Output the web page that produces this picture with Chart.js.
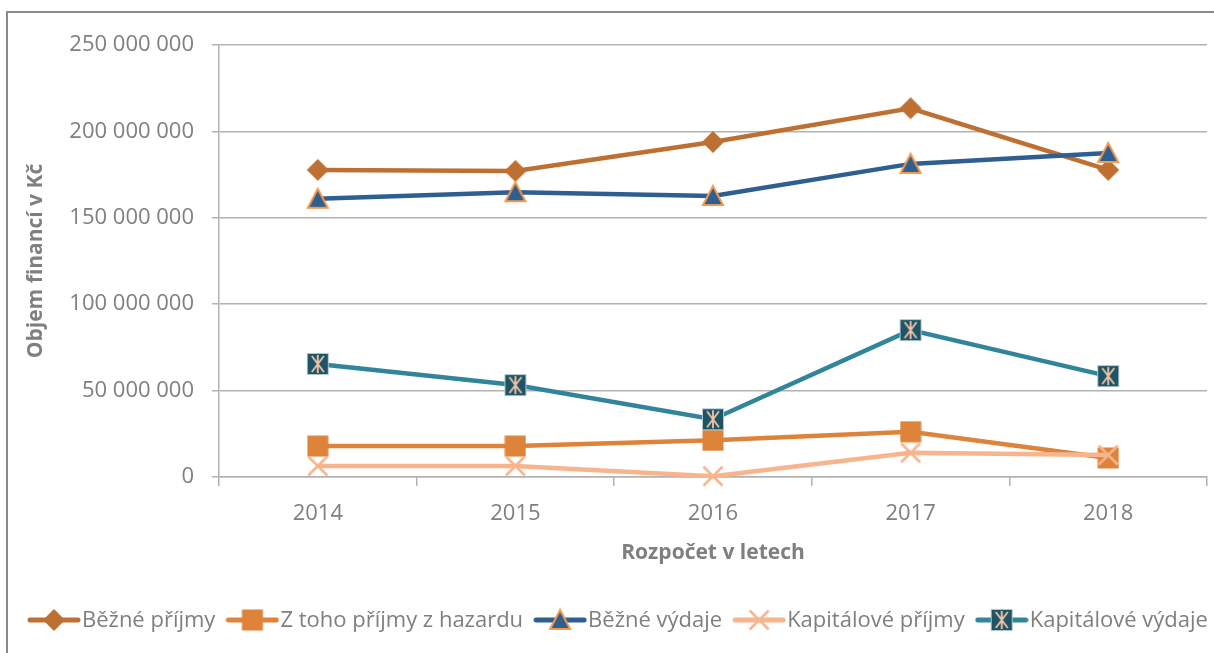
<!DOCTYPE html>
<html><head><meta charset="utf-8">
<script src="https://cdn.jsdelivr.net/npm/chart.js@4.4.1/dist/chart.umd.min.js"></script>
<style>html,body{margin:0;padding:0;background:#fff;overflow:hidden}</style>
</head><body>
<canvas id="c" width="1214" height="653" style="display:block;width:1214px;height:653px"></canvas>
<script>
// ---- data ----
const categories = ['2014', '2015', '2016', '2017', '2018'];
const seriesNames = ['Běžné příjmy', 'Z toho příjmy z hazardu', 'Běžné výdaje', 'Kapitálové příjmy', 'Kapitálové výdaje'];
const bezne_prijmy = [177700000, 177100000, 193900000, 213400000, 177700000];
const hazard_prijmy = [17900000, 17900000, 21200000, 26200000, 11000000];
const bezne_vydaje = [161000000, 164800000, 162600000, 181200000, 187500000];
const kapitalove_prijmy = [6400000, 6400000, 500000, 14000000, 12700000];
const kapitalove_vydaje = [65400000, 53200000, 33400000, 85000000, 58400000];
const yTickValues = [0, 50000000, 100000000, 150000000, 200000000, 250000000];
const yAxisTitle = 'Objem financí v Kč';
const xAxisTitle = 'Rozpočet v letech';

// ---- styles ----
const C_BP = '#BE7032', C_HZ = '#DD833A', C_BV = '#2F5E91', C_BV_B = '#F39A4C', C_KP = '#F8B48C', C_KV = '#31859B', C_KV_M = '#1E5566', C_KV_S = '#F4C4A6';
const FONT = '"Open Sans", "Noto Sans", sans-serif';
const GRID = '#b2b2b2', TXT = '#7f7f7f';

function mk(w, h, draw) { const c = document.createElement('canvas'); c.width = w; c.height = h; draw(c.getContext('2d'), w, h); return c; }
function diamond(g, cx, cy, r) { g.fillStyle = C_BP; g.beginPath(); g.moveTo(cx, cy - r); g.lineTo(cx + r, cy); g.lineTo(cx, cy + r); g.lineTo(cx - r, cy); g.closePath(); g.fill(); }
function square(g, cx, cy, s) { g.fillStyle = C_HZ; g.fillRect(cx - s / 2, cy - s / 2, s, s); }
function triangle(g, cx, cy) { g.fillStyle = C_BV; g.strokeStyle = C_BV_B; g.lineWidth = 2; g.lineJoin = 'miter'; g.beginPath(); g.moveTo(cx, cy - 10); g.lineTo(cx + 10, cy + 9); g.lineTo(cx - 10, cy + 9); g.closePath(); g.fill(); g.stroke(); }
function cross(g, cx, cy, r) { g.strokeStyle = C_KP; g.lineWidth = 2.5; g.beginPath(); g.moveTo(cx - r, cy - r); g.lineTo(cx + r, cy + r); g.moveTo(cx + r, cy - r); g.lineTo(cx - r, cy + r); g.stroke(); }
function kvbox(g, cx, cy) { g.fillStyle = C_KV_M; g.fillRect(cx - 11, cy - 11, 22, 22); g.strokeStyle = 'rgba(190,210,215,0.9)'; g.lineWidth = 1; g.strokeRect(cx - 10.5, cy - 10.5, 21, 21);
  g.strokeStyle = C_KV_S; g.lineWidth = 1.8; g.beginPath(); g.moveTo(cx, cy - 9); g.lineTo(cx, cy + 9); g.moveTo(cx - 6, cy - 8); g.lineTo(cx + 6, cy + 8); g.moveTo(cx + 6, cy - 8); g.lineTo(cx - 6, cy + 8); g.stroke(); }

const mBP = mk(24, 24, g => diamond(g, 12, 12, 11));
const mHZ = mk(22, 22, g => square(g, 11, 11, 21));
const mBV = mk(26, 26, g => triangle(g, 13, 13));
const mKP = mk(24, 24, g => cross(g, 12, 12, 9.5));
const mKV = mk(24, 24, g => kvbox(g, 12, 12));
const markers = [mBP, mHZ, mBV, mKP, mKV];
const lineColors = [C_BP, C_HZ, C_BV, C_KP, C_KV];

function legendIcon(i) {
  return mk(54, 26, g => {
    g.strokeStyle = lineColors[i]; g.lineWidth = 5; g.lineCap = 'round';
    g.beginPath(); g.moveTo(3, 13); g.lineTo(51, 13); g.stroke();
    g.drawImage(markers[i], 27 - markers[i].width / 2, 13 - markers[i].height / 2);
  });
}

const values = [bezne_prijmy, hazard_prijmy, bezne_vydaje, kapitalove_prijmy, kapitalove_vydaje];
const datasets = values.map((v, i) => ({
  label: seriesNames[i], data: v, borderColor: lineColors[i], backgroundColor: lineColors[i],
  borderWidth: 4.5, tension: 0, pointStyle: markers[i], pointRadius: 10, pointHoverRadius: 10,
  clip: false, order: 4 - i
}));

function fmt(v) { return String(v).replace(/\B(?=(\d{3})+(?!\d))/g, ' '); }

const framePlugin = {
  id: 'frame',
  beforeDraw(chart) {
    const ctx = chart.ctx; ctx.save();
    ctx.fillStyle = '#fff'; ctx.fillRect(0, 0, chart.width, chart.height);
    ctx.strokeStyle = '#8a8a8a'; ctx.lineWidth = 2; ctx.strokeRect(7, 12, 1400, 800);
    ctx.restore();
  },
  afterDraw(chart) {
    const ctx = chart.ctx; ctx.save();
    ctx.font = '22px ' + FONT; ctx.fillStyle = TXT; ctx.textBaseline = 'middle'; ctx.textAlign = 'left';
    let x = 27; const cy = 620;
    chart.data.datasets.forEach((ds, i) => {
      const icon = legendIcon(i);
      ctx.drawImage(icon, x, cy - 13);
      x += 55;
      ctx.fillText(ds.label, x, cy + 1);
      x += ctx.measureText(ds.label).width + 10;
    });
    ctx.restore();
  }
};

new Chart(document.getElementById('c'), {
  type: 'line',
  data: { labels: categories, datasets },
  plugins: [framePlugin],
  options: {
    responsive: false, devicePixelRatio: 1, animation: false,
    layout: { autoPadding: false, padding: { left: 0, top: 45, right: 7, bottom: 76 } },
    plugins: { legend: { display: false }, tooltip: { enabled: false } },
    scales: {
      x: {
        type: 'category', offset: true,
        afterFit: s => { s.height = 100; s.paddingLeft = 0; s.paddingRight = 0; },
        grid: { offset: true, drawOnChartArea: false, tickLength: 9, color: GRID, lineWidth: 1.5 },
        border: { color: GRID, width: 1.5 },
        ticks: { color: TXT, font: { family: FONT, size: 22 }, padding: 15, maxRotation: 0, autoSkip: false },
        title: { display: true, text: xAxisTitle, color: TXT, font: { family: FONT, size: 21, weight: 'bold' }, padding: { top: 0, bottom: 11 } }
      },
      y: {
        min: 0, max: 250000000,
        afterBuildTicks: s => { s.ticks = yTickValues.map(v => ({ value: v })); },
        afterFit: s => { s.width = 219; s.paddingTop = 0; s.paddingBottom = 0; },
        grid: { color: GRID, lineWidth: 1.5, tickLength: 7 },
        border: { color: GRID, width: 1.5 },
        ticks: { color: TXT, font: { family: FONT, size: 22 }, padding: 18, callback: v => fmt(v) },
        title: { display: true, text: yAxisTitle, color: TXT, font: { family: FONT, size: 21, weight: 'bold' }, padding: { top: 23, bottom: 0 } }
      }
    }
  }
});
</script>
</body></html>
